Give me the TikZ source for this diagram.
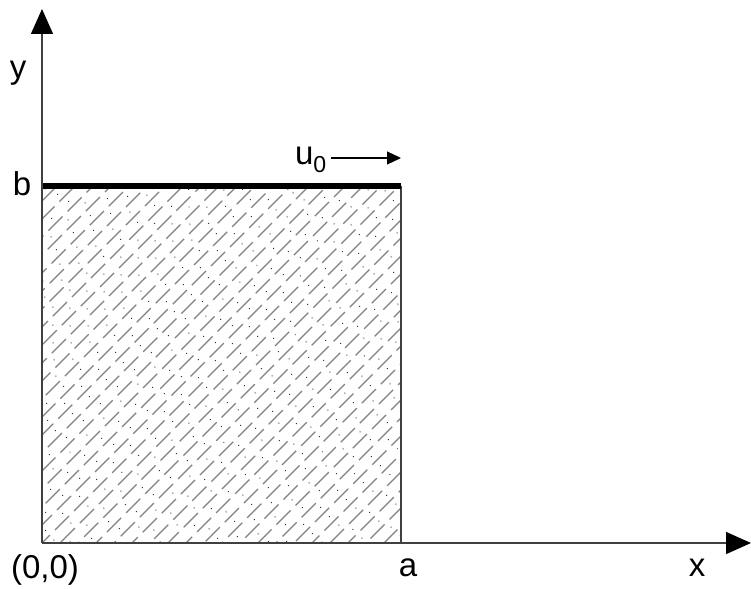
\documentclass[tikz,border=0pt]{standalone}
\usepackage{fontspec}
\setmainfont{Liberation Sans}
\usetikzlibrary{arrows.meta}
\begin{document}
\begin{tikzpicture}[x=1pt,y=-1pt,
  lbl/.style={font=\fontsize{33}{36}\selectfont, inner sep=0pt},
  axis/.style={draw=black!75, line width=1.4pt, -{Triangle[length=25pt,width=22pt,color=black]}},
  hatchdash/.style={draw=black!50, line width=1.2pt},
  hatchdot/.style={draw=black!80, line width=1.4pt, dash pattern=on 0.01pt off 24pt, line cap=round}]
\useasboundingbox (0,0) rectangle (751,588);
\coordinate (O) at (42,543);
\coordinate (A) at (401,543);
\coordinate (B) at (42,186);
\coordinate (C) at (401,186);
\coordinate (Ytip) at (42,9);
\coordinate (Xtip) at (751,543);
% hatching
\pgfmathsetseed{7}
\begin{scope}
\clip (O) rectangle (C);
\foreach \k [count=\i] in {0,18,...,738} {
  \pgfmathsetmacro{\ph}{rnd*27}
  \draw[hatchdash, dash pattern=on 20pt off 7pt, dash phase=\ph pt] (42+\k-360,543) -- ++(380,-380);
  \pgfmathsetmacro{\pd}{rnd*24}
  \draw[hatchdot, dash phase=\pd pt] (42+\k-351,543) -- ++(380,-380);
}
\end{scope}
\draw[draw=black!75, line width=1.4pt] (A) -- (C);
\draw[line width=6pt] (B) -- (C);
\draw[axis] (O) -- (Ytip);
\draw[axis] (O) -- (Xtip);
\node[lbl] (ly) at (18,73) {y};
\node[lbl] (lb) at (22,184) {b};
\node[lbl] (lo) at (45,570) {(0,0)};
\node[lbl] (la) at (408,568) {a};
\node[lbl] (lx) at (697,568) {x};
\node[lbl, anchor=east] (lu) at (327,160) {u\textsubscript{0}};
\coordinate (us) at (331,158);
\coordinate (ue) at (401,158);
\draw[line width=1.2pt, -{Triangle[length=14pt,width=13pt]}] (us) -- (ue);
\end{tikzpicture}
\end{document}
